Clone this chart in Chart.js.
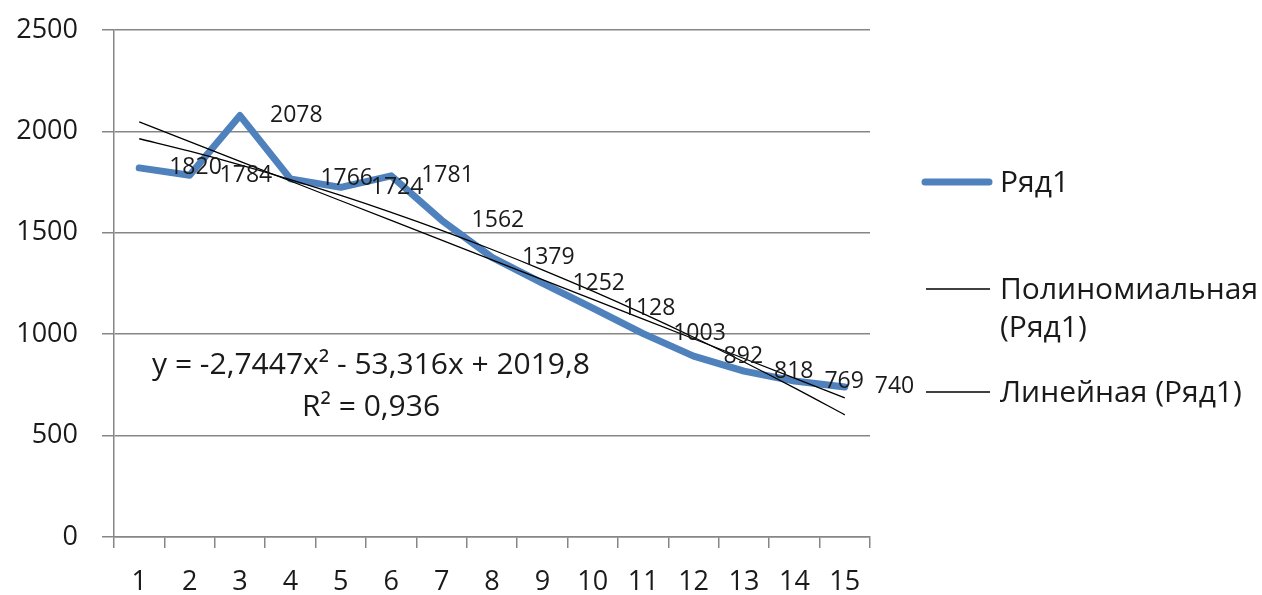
<!DOCTYPE html>
<html lang="ru">
<head>
<meta charset="utf-8">
<title>Ряд1</title>
<script src="https://cdn.jsdelivr.net/npm/chart.js@4.4.1/dist/chart.umd.min.js"></script>
<style>
  html, body { margin: 0; padding: 0; background: #fff; }
  #chart { display: block; }
</style>
</head>
<body>
<canvas id="chart" width="1262" height="595"></canvas>
<script>
// DATA
const labels = ["1", "2", "3", "4", "5", "6", "7", "8", "9", "10", "11", "12", "13", "14", "15"];
const values = [1820, 1784, 2078, 1766, 1724, 1781, 1562, 1379, 1252, 1128, 1003, 892, 818, 769, 740];
const yMin = 0, yMax = 2500, yStep = 500;

// quadratic trend as printed on the chart: c0 + c1*x + c2*x^2
const polyCoef = [2019.8, -53.316, -2.7447];
const polyText = ["y = -2,7447x² - 53,316x + 2019,8", "R² = 0,936"];

const seriesName = "Ряд1";
const polyName = ["Полиномиальная", "(Ряд1)"];
const linName = "Линейная (Ряд1)";

const FONT = "'Open Sans', 'Liberation Sans', sans-serif";
const BLUE = "#4f81bd";
const GRID = "#868686";

// TRENDS
const xs = labels.map(Number);
const polyValues = xs.map(x => polyCoef[0] + polyCoef[1] * x + polyCoef[2] * x * x);

// least squares line through the series
function linearFit(xv, yv) {
  const n = xv.length;
  const mx = xv.reduce((s, v) => s + v, 0) / n;
  const my = yv.reduce((s, v) => s + v, 0) / n;
  let sxy = 0, sxx = 0;
  xv.forEach((x, i) => { sxy += (x - mx) * (yv[i] - my); sxx += (x - mx) * (x - mx); });
  const b = sxy / sxx;
  return xv.map(x => my + b * (x - mx));
}
const linValues = linearFit(xs, values);

// VALUE LABELS (to the right of each point)
const valueLabels = {
  id: "valueLabels",
  afterDatasetsDraw(chart) {
    const ctx = chart.ctx;
    const meta = chart.getDatasetMeta(0);
    ctx.save();
    ctx.font = "23px " + FONT;
    ctx.fillStyle = "#1a1a1a";
    ctx.textAlign = "left";
    ctx.textBaseline = "middle";
    meta.data.forEach((pt, i) => ctx.fillText(String(values[i]), pt.x + 30, pt.y));
    ctx.restore();
  }
};

// EQUATION + LEGEND
const extras = {
  id: "extras",
  afterDraw(chart) {
    const ctx = chart.ctx;
    ctx.save();

    // trend equation
    ctx.font = "30px " + FONT;
    ctx.fillStyle = "#1a1a1a";
    ctx.textAlign = "center";
    ctx.textBaseline = "middle";
    ctx.fillText(polyText[0], 371, 365);
    ctx.fillText(polyText[1], 371, 407);

    // legend
    ctx.textAlign = "left";
    ctx.font = "30px " + FONT;
    ctx.lineCap = "round";

    ctx.strokeStyle = BLUE;
    ctx.lineWidth = 7;
    ctx.beginPath(); ctx.moveTo(925, 182); ctx.lineTo(989, 182); ctx.stroke();
    ctx.fillText(seriesName, 1000, 183);

    ctx.lineCap = "butt";
    ctx.strokeStyle = "#000";
    ctx.lineWidth = 1.3;
    ctx.beginPath(); ctx.moveTo(926, 289); ctx.lineTo(990, 289); ctx.stroke();
    ctx.fillText(polyName[0], 1000, 290);
    ctx.fillText(polyName[1], 1000, 328);

    ctx.beginPath(); ctx.moveTo(926, 392); ctx.lineTo(990, 392); ctx.stroke();
    ctx.fillText(linName, 1000, 393);

    ctx.restore();
  }
};

new Chart(document.getElementById("chart"), {
  type: "line",
  data: {
    labels,
    datasets: [
      {
        label: seriesName,
        data: values,
        borderColor: BLUE,
        borderWidth: 7,
        borderCapStyle: "round",
        borderJoinStyle: "round",
        pointRadius: 0,
        tension: 0,
        order: 2,
      },
      {
        label: polyName.join(" "),
        data: polyValues,
        borderColor: "#000",
        borderWidth: 1.3,
        pointRadius: 0,
        cubicInterpolationMode: "monotone",
        order: 1,
      },
      {
        label: linName,
        data: linValues,
        borderColor: "#000",
        borderWidth: 1.3,
        pointRadius: 0,
        order: 0,
      },
    ]
  },
  options: {
    responsive: false,
    animation: false,
    layout: { padding: { top: 30, right: 392, bottom: 0, left: 0 } },
    plugins: { legend: { display: false }, tooltip: { enabled: false } },
    scales: {
      x: {
        offset: true,
        afterFit: s => { s.height = 58; },
        grid: { offset: true, drawOnChartArea: false, drawTicks: true, tickLength: 11, color: GRID, lineWidth: 1.5 },
        border: { display: true, color: GRID, width: 1.5 },
        ticks: { color: "#1a1a1a", padding: 18, font: { family: FONT, size: 27 }, maxRotation: 0, autoSkip: false }
      },
      y: {
        min: yMin,
        max: yMax,
        // keep the plot top where the 2500 line sits; labels may overhang
        afterFit: s => { s.width = 114; s.paddingTop = 0; s.paddingBottom = 0; },
        grid: { color: GRID, lineWidth: 1.5, tickLength: 12 },
        border: { display: true, color: GRID, width: 1.5 },
        ticks: { stepSize: yStep, color: "#1a1a1a", padding: 24, font: { family: FONT, size: 27 }, callback: v => String(v) }
      }
    }
  },
  plugins: [valueLabels, extras]
});
</script>
</body>
</html>
